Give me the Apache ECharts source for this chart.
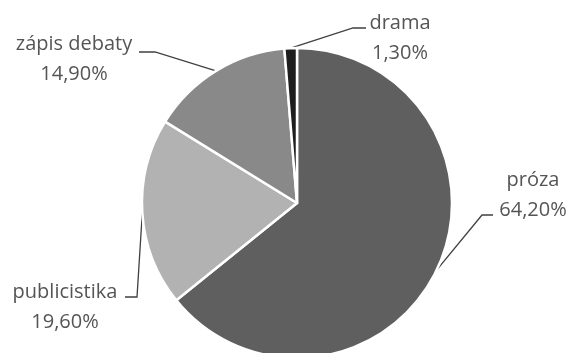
<!DOCTYPE html>
<html>
<head>
<meta charset="utf-8">
<style>
  html, body { margin: 0; padding: 0; background: #ffffff; }
  #chart { width: 573px; height: 353px; }
</style>
<script src="https://cdn.jsdelivr.net/npm/echarts@6/dist/echarts.min.js"></script>
</head>
<body>
<div id="chart"></div>
<script>
// Genre shares (percent)
const categories = ['próza', 'publicistika', 'zápis debaty', 'drama'];
const shares = [64.2, 19.6, 14.9, 1.3];
const sliceColors = ['#5f5f5f', '#b2b2b2', '#898989', '#1e1e1e'];

// Label placement: label block centre, elbow and end of the leader line
const labelPlacement = {
  'próza':        { cx: 533, cy: 195, elbow: [482, 215], end: [493, 215] },
  'publicistika': { cx: 65,  cy: 307, elbow: [137, 297], end: [125, 297] },
  'zápis debaty': { cx: 74,  cy: 59,  elbow: [155, 52],  end: [139, 52] },
  'drama':        { cx: 400, cy: 38,  elbow: [353, 28],  end: [366, 28] }
};

const fmtPct = v => v.toFixed(2).replace('.', ',') + '%';

const chart = echarts.init(document.getElementById('chart'), null, { renderer: 'canvas' });

chart.setOption({
  animation: false,
  backgroundColor: '#ffffff',
  series: [{
    type: 'pie',
    center: [297, 203],
    radius: 155,
    startAngle: 90,
    clockwise: true,
    avoidLabelOverlap: false,
    itemStyle: { borderColor: '#ffffff', borderWidth: 2.5 },
    emphasis: { disabled: true },
    label: {
      show: true,
      position: 'outside',
      formatter: p => p.name + '\n' + fmtPct(p.value),
      fontFamily: 'Open Sans',
      fontSize: 20,
      lineHeight: 30,
      color: '#555555',
      align: 'center'
    },
    labelLine: {
      show: true,
      lineStyle: { color: '#404040', width: 1.3 }
    },
    labelLayout: function (params) {
      const name = categories[params.dataIndex];
      const pl = labelPlacement[name];
      const start = params.labelLinePoints ? params.labelLinePoints[0] : pl.elbow;
      return {
        x: pl.cx,
        y: pl.cy,
        align: 'center',
        verticalAlign: 'middle',
        labelLinePoints: [start, pl.elbow, pl.end]
      };
    },
    data: categories.map((c, i) => ({
      name: c,
      value: shares[i],
      itemStyle: { color: sliceColors[i] }
    }))
  }]
});
</script>
</body>
</html>
